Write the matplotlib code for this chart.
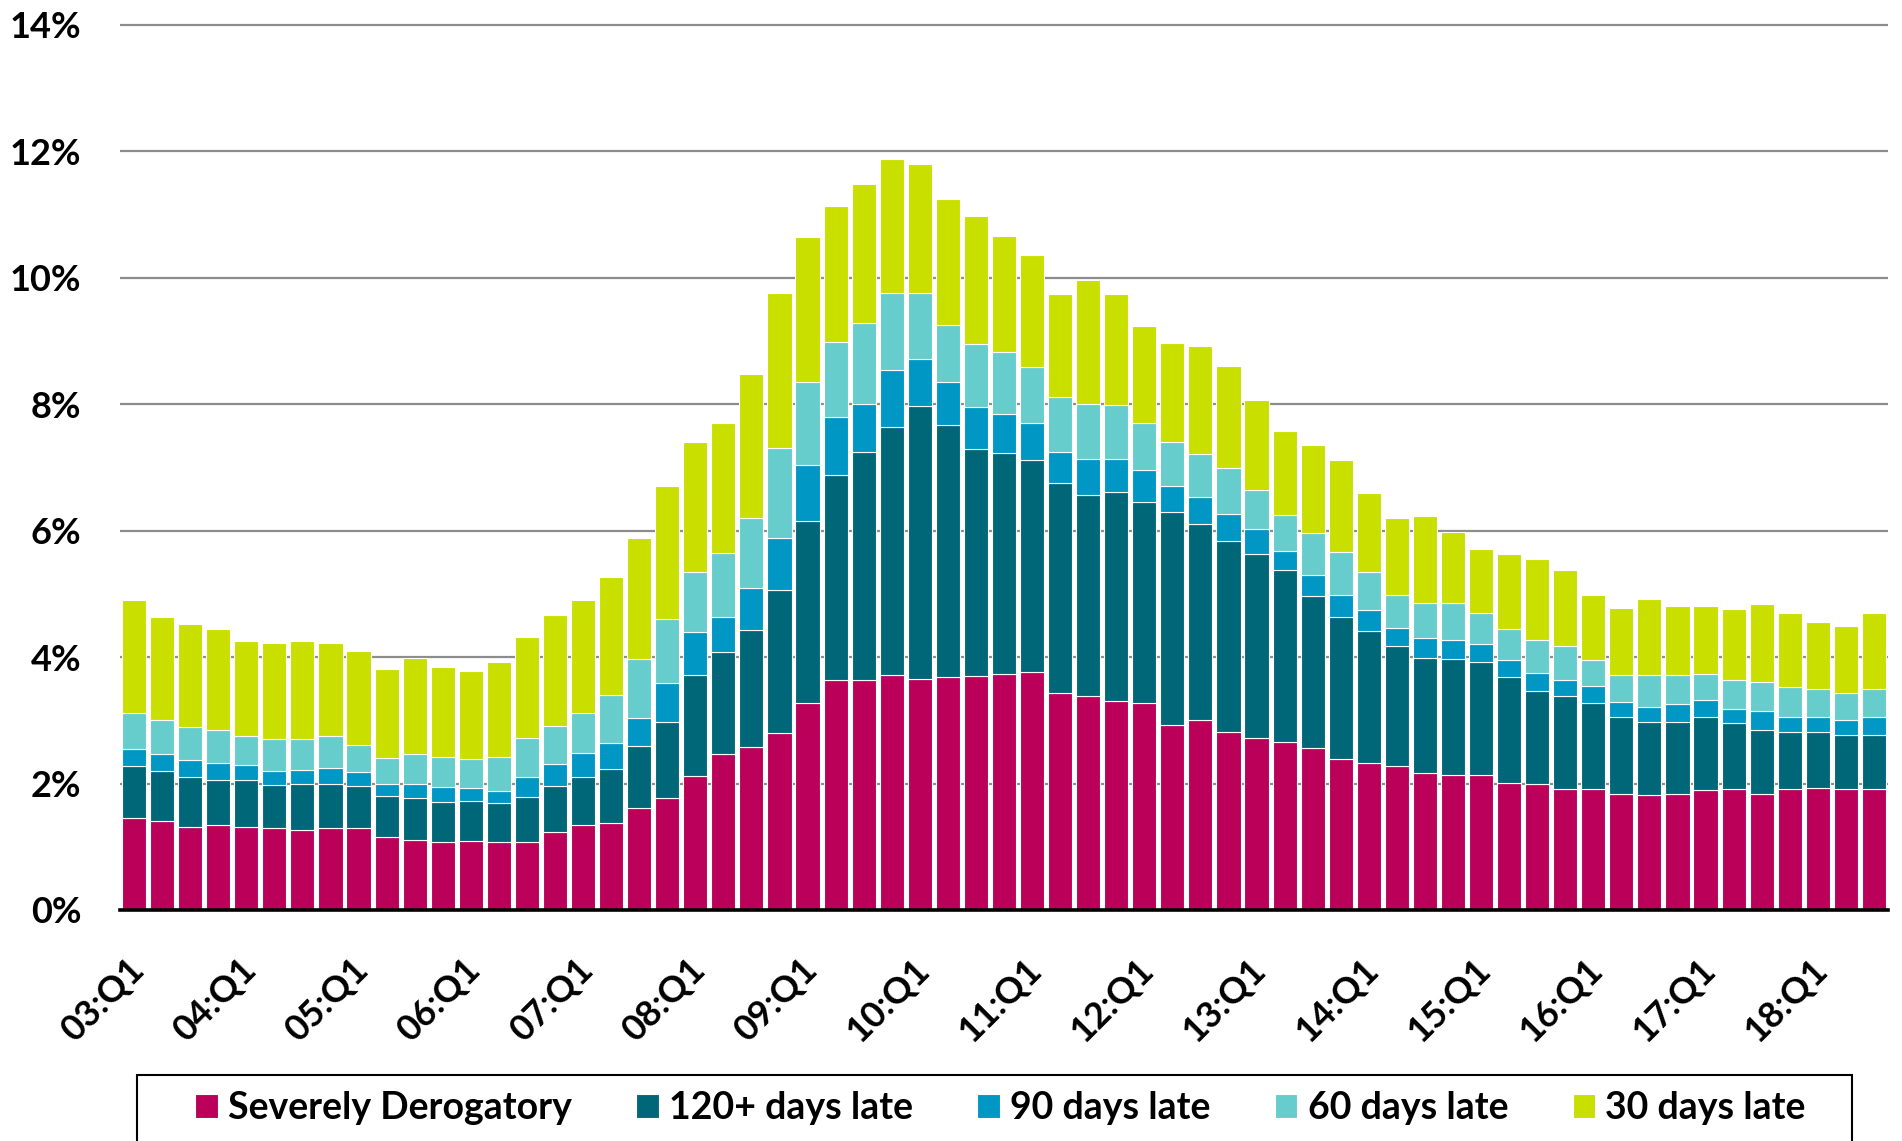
import numpy as np
import matplotlib
matplotlib.use("Agg")
import matplotlib.pyplot as plt
import matplotlib.transforms as mtransforms
from matplotlib.patches import Rectangle

# quarterly data 03:Q1 .. 18:Q3, share of balance by delinquency status (%)
severe = [1.45, 1.40, 1.32, 1.34, 1.32, 1.29, 1.27, 1.30, 1.29, 1.15, 1.10, 1.07, 1.09, 1.07, 1.07, 1.24,
          1.34, 1.37, 1.62, 1.77, 2.12, 2.47, 2.58, 2.80, 3.27, 3.63, 3.63, 3.72, 3.66, 3.68, 3.70, 3.73,
          3.76, 3.43, 3.38, 3.30, 3.27, 2.92, 3.00, 2.81, 2.72, 2.65, 2.56, 2.38, 2.32, 2.27, 2.16, 2.14,
          2.14, 2.01, 2.00, 1.91, 1.92, 1.84, 1.82, 1.84, 1.89, 1.91, 1.84, 1.91, 1.93, 1.92, 1.91]
late120 = [0.82, 0.80, 0.79, 0.72, 0.74, 0.69, 0.72, 0.69, 0.67, 0.65, 0.67, 0.63, 0.63, 0.62, 0.71, 0.72,
           0.77, 0.86, 0.98, 1.21, 1.60, 1.61, 1.85, 2.26, 2.89, 3.25, 3.61, 3.92, 4.31, 3.99, 3.59, 3.50,
           3.36, 3.32, 3.18, 3.31, 3.18, 3.38, 3.11, 3.03, 2.91, 2.72, 2.40, 2.25, 2.09, 1.90, 1.82, 1.83,
           1.78, 1.67, 1.47, 1.47, 1.36, 1.22, 1.15, 1.13, 1.17, 1.04, 1.00, 0.90, 0.88, 0.84, 0.86]
late90 = [0.28, 0.26, 0.26, 0.27, 0.23, 0.22, 0.22, 0.25, 0.22, 0.19, 0.22, 0.25, 0.21, 0.19, 0.32, 0.35,
          0.37, 0.41, 0.43, 0.61, 0.67, 0.55, 0.66, 0.82, 0.88, 0.92, 0.77, 0.90, 0.74, 0.68, 0.66, 0.62,
          0.58, 0.50, 0.57, 0.53, 0.51, 0.40, 0.42, 0.43, 0.40, 0.31, 0.34, 0.36, 0.34, 0.29, 0.32, 0.30,
          0.29, 0.28, 0.28, 0.25, 0.26, 0.23, 0.24, 0.29, 0.26, 0.23, 0.30, 0.25, 0.24, 0.25, 0.28]
late60 = [0.56, 0.55, 0.53, 0.52, 0.46, 0.51, 0.50, 0.51, 0.43, 0.42, 0.48, 0.47, 0.45, 0.54, 0.62, 0.60,
          0.64, 0.76, 0.94, 1.01, 0.95, 1.02, 1.11, 1.42, 1.31, 1.19, 1.27, 1.22, 1.05, 0.91, 1.00, 0.97,
          0.89, 0.86, 0.88, 0.85, 0.74, 0.70, 0.68, 0.72, 0.62, 0.57, 0.66, 0.68, 0.59, 0.52, 0.55, 0.59,
          0.49, 0.49, 0.52, 0.54, 0.41, 0.42, 0.50, 0.46, 0.42, 0.45, 0.46, 0.47, 0.44, 0.42, 0.45]
late30 = [1.79, 1.62, 1.63, 1.60, 1.51, 1.52, 1.55, 1.47, 1.48, 1.40, 1.51, 1.43, 1.40, 1.51, 1.59, 1.76,
          1.78, 1.86, 1.91, 2.11, 2.07, 2.05, 2.28, 2.46, 2.30, 2.14, 2.20, 2.12, 2.04, 1.99, 2.02, 1.84,
          1.77, 1.64, 1.95, 1.75, 1.53, 1.57, 1.71, 1.62, 1.42, 1.32, 1.40, 1.44, 1.25, 1.22, 1.38, 1.12,
          1.01, 1.18, 1.28, 1.21, 1.04, 1.07, 1.21, 1.09, 1.07, 1.13, 1.24, 1.16, 1.07, 1.06, 1.20]

series_names = ["Severely Derogatory", "120+ days late", "90 days late", "60 days late", "30 days late"]
series_colors = ["#BA0058", "#006778", "#0097C4", "#66CDCC", "#C8DF00"]
years = ["03", "04", "05", "06", "07", "08", "09", "10", "11", "12", "13", "14", "15", "16", "17", "18"]

quarters = []
for y in years:
    for q in range(1, 5):
        quarters.append(y + ":Q" + str(q))
quarters = quarters[:len(severe)]

font = "Lato"

fig = plt.figure(figsize=(19.02, 11.41), dpi=100)
ax = fig.add_axes([0.0631, 0.2025, 0.9295, 0.7773])

x = np.arange(len(quarters))
bottom = np.zeros(len(quarters))
for vals, name, col in zip([severe, late120, late90, late60, late30], series_names, series_colors):
    ax.bar(x, vals, bottom=bottom, width=0.86, color=col, edgecolor="white", linewidth=0.8, label=name, zorder=3)
    bottom = bottom + np.array(vals)

ax.set_xlim(-0.5, len(quarters) - 0.5)
ax.set_ylim(0, 14.03)
ax.set_yticks(np.arange(0, 15, 2))
ax.set_yticklabels([str(v) + "%" for v in range(0, 15, 2)], fontsize=26, fontweight="bold", family=font)
ax.yaxis.grid(True, color="#8c8c8c", linewidth=1.6, zorder=0)
ax.set_axisbelow(True)

q1 = [i for i, q in enumerate(quarters) if q.endswith("Q1")]
ax.set_xticks(q1)
ax.set_xticklabels([quarters[i] for i in q1], rotation=45, ha="right", fontsize=26, fontweight="bold", family=font)
ax.tick_params(axis="y", length=0, pad=28)
ax.tick_params(axis="x", length=0, pad=31)
# nudge the rotated labels right a bit
shift = mtransforms.ScaledTranslation(0.16, 0, fig.dpi_scale_trans)
for lab in ax.get_xticklabels():
    lab.set_transform(lab.get_transform() + shift)

for s in ["left", "right", "top"]:
    ax.spines[s].set_visible(False)
ax.spines["bottom"].set_color("black")
ax.spines["bottom"].set_linewidth(2.6)
ax.spines["bottom"].set_zorder(5)

# legend box runs off the bottom of the figure
fig.patches.append(Rectangle((0.072, -0.05), 0.9017, 0.1078, transform=fig.transFigure, fill=False,
                             edgecolor="black", linewidth=1.5, clip_on=False))
fig.legend(loc="center", bbox_to_anchor=(0.526, 0.029), ncol=5,
           prop={"family": font, "weight": "bold", "size": 27}, frameon=False,
           handlelength=0.6, handleheight=0.62, handletextpad=0.27, columnspacing=1.72)

fig.savefig("out.png", dpi=100)
